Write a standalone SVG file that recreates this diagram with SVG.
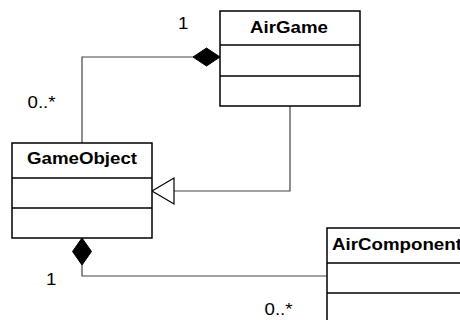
<svg xmlns="http://www.w3.org/2000/svg" width="460" height="320" viewBox="0 0 460 320">
<style>
.box{fill:#fff;stroke:#000;stroke-width:1.5}
.div{stroke:#000;stroke-width:1.5}
.ln{fill:none;stroke:#444;stroke-width:1.2}
.dia{fill:#000;stroke:#000;stroke-width:1}
.tri{fill:#fff;stroke:#000;stroke-width:1.2}
.t{font-family:"Liberation Sans",Arial,sans-serif;font-size:17px;fill:#000}
.b{font-weight:bold;text-anchor:middle}
</style>
<rect width="460" height="320" fill="#fff"/>
<g id="connectors">
<polyline class="ln" points="193,57 82,57 82,143"/>
<polygon class="dia" points="220,57 206.5,48 193,57 206.5,66"/>
<polyline class="ln" points="290,106 290,191 174,191"/>
<polygon class="tri" points="152,191 174,178 174,204"/>
<polyline class="ln" points="82,265 82,276 327,276"/>
<polygon class="dia" points="82,238 91.5,251.5 82,265 72.5,251.5"/>
<text class="t" transform="translate(178,29) scale(1.1,1)">1</text>
<text class="t" transform="translate(27.5,108) scale(1.1,1)">0..*</text>
<text class="t" transform="translate(46,285) scale(1.1,1)">1</text>
<text class="t" transform="translate(264.5,315) scale(1.1,1)">0..*</text>
</g>
<g id="AirGame">
<rect class="box" x="220" y="11" width="140" height="95"/>
<line class="div" x1="220" y1="45" x2="360" y2="45"/>
<line class="div" x1="220" y1="76" x2="360" y2="76"/>
<text class="t b" transform="translate(289,33) scale(1.1,1)">AirGame</text>
</g>
<g id="GameObject">
<rect class="box" x="12" y="143" width="140" height="95"/>
<line class="div" x1="12" y1="178" x2="152" y2="178"/>
<line class="div" x1="12" y1="208" x2="152" y2="208"/>
<text class="t b" transform="translate(82,164) scale(1.1,1)">GameObject</text>
</g>
<g id="AirComponent">
<rect class="box" x="327" y="228" width="140" height="100"/>
<line class="div" x1="327" y1="263" x2="467" y2="263"/>
<line class="div" x1="327" y1="293" x2="467" y2="293"/>
<text class="t b" transform="translate(397,250) scale(1.1,1)">AirComponent</text>
</g>
</svg>
